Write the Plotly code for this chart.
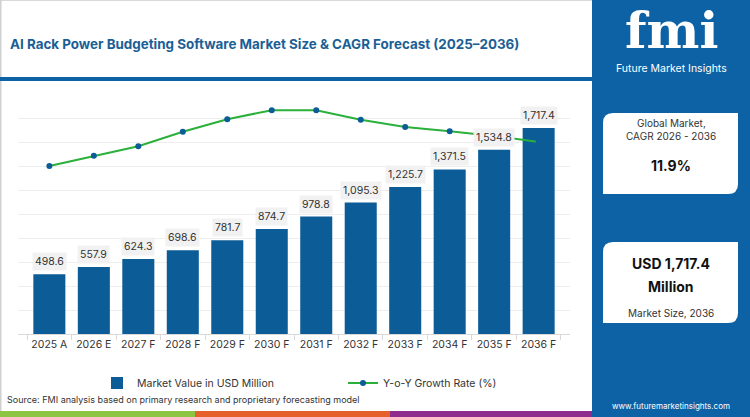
import plotly.graph_objects as go

# data
years = ["2025 A", "2026 E", "2027 F", "2028 F", "2029 F", "2030 F",
         "2031 F", "2032 F", "2033 F", "2034 F", "2035 F", "2036 F"]
market_value = [498.6, 557.9, 624.3, 698.6, 781.7, 874.7,
                978.8, 1095.3, 1225.7, 1371.5, 1534.8, 1717.4]
yoy_growth = [8.80, 8.97, 9.13, 9.37, 9.58, 9.73,
              9.73, 9.57, 9.45, 9.38, 9.30, 9.20]
value_labels = ["498.6", "557.9", "624.3", "698.6", "781.7", "874.7",
                "978.8", "1,095.3", "1,225.7", "1,371.5", "1,534.8", "1,717.4"]

W, H = 750, 417
L, R, T, B = 18, 570, 94, 334   # plot area in pixels
BLUE = "#0b5c97"
PANEL = "#0d62a6"
FONT = "Inter"


def px(x):
    return (x - L) / (R - L)


def py(y):
    return (B - y) / (B - T)


fig = go.Figure()

fig.add_trace(go.Bar(
    x=years, y=market_value,
    name="Market Value in USD Million",
    marker=dict(color=BLUE, line=dict(width=0)),
    legend="legend",
))

fig.add_trace(go.Scatter(
    x=years, y=yoy_growth,
    name="Y-o-Y Growth Rate (%)",
    mode="lines+markers",
    line=dict(color="#2bb03c", width=2),
    marker=dict(color=BLUE, size=6),
    yaxis="y2",
    legend="legend2",
))

annotations = []
# value labels above bars (annotations so they sit over the line)
for yr, v, lab in zip(years, market_value, value_labels):
    annotations.append(dict(
        x=yr, y=v, xref="x", yref="y", text=lab, showarrow=False,
        yanchor="bottom", yshift=3, bgcolor="#f1f1f1", borderpad=2,
        font=dict(family=FONT, size=10.5, color="#333333"),
    ))

# title
annotations.append(dict(
    x=px(8), y=py(44), xref="paper", yref="paper", xanchor="left", yanchor="middle",
    text="<b>AI Rack Power Budgeting Software Market Size & CAGR Forecast (2025–2036)</b>",
    showarrow=False, font=dict(family=FONT, size=13.4, color="#1b5f96"),
))
# source
annotations.append(dict(
    x=px(5), y=py(399), xref="paper", yref="paper", xanchor="left", yanchor="middle",
    text="Source: FMI analysis based on primary research and proprietary forecasting model",
    showarrow=False, font=dict(family=FONT, size=9, color="#333333"),
))

# right panel texts
annotations += [
    dict(x=px(671), y=py(30), text="<b>fmi</b>",
         font=dict(family="DejaVu Serif", size=50, color="white")),
    dict(x=px(671), y=py(69), text="Future Market Insights",
         font=dict(family=FONT, size=10.5, color="white")),
    dict(x=px(671), y=py(123), text="Global Market,",
         font=dict(family=FONT, size=10, color="#333333")),
    dict(x=px(671), y=py(136), text="CAGR 2026 - 2036",
         font=dict(family=FONT, size=10, color="#333333")),
    dict(x=px(671), y=py(165), text="<b>11.9%</b>",
         font=dict(family=FONT, size=14, color="#111111")),
    dict(x=px(671), y=py(263), text="<b>USD 1,717.4</b>",
         font=dict(family=FONT, size=14, color="#111111")),
    dict(x=px(671), y=py(286), text="<b>Million</b>",
         font=dict(family=FONT, size=14, color="#111111")),
    dict(x=px(671), y=py(313), text="Market Size, 2036",
         font=dict(family=FONT, size=10, color="#333333")),
    dict(x=px(671), y=py(406), text="www.futuremarketinsights.com",
         font=dict(family=FONT, size=8, color="white")),
]
for a in annotations[-9:]:
    a.update(xref="paper", yref="paper", showarrow=False,
             xanchor="center", yanchor="middle")


def rect(x0, y0, x1, y1, color, layer="below"):
    return dict(type="rect", xref="paper", yref="paper",
                x0=px(x0), x1=px(x1), y0=py(y1), y1=py(y0),
                fillcolor=color, line=dict(width=0), layer=layer)


def card(x0, y0, x1, y1, r=10):
    # rounded top-left and bottom-right corners
    pts = (f"M {px(x0)},{py(y0 + r)} "
           f"Q {px(x0)},{py(y0)} {px(x0 + r)},{py(y0)} "
           f"L {px(x1)},{py(y0)} "
           f"L {px(x1)},{py(y1 - r)} "
           f"Q {px(x1)},{py(y1)} {px(x1 - r)},{py(y1)} "
           f"L {px(x0)},{py(y1)} Z")
    return dict(type="path", xref="paper", yref="paper", path=pts,
                fillcolor="white", line=dict(width=0), layer="above")


shapes = [
    rect(0, 0, W, 1, "#d9d9d9"),
    rect(0, 0, 1.5, H, "#d0d0d0"),
    rect(0, 77, 592, 81, PANEL, "above"),
    rect(592, 0, W, H, PANEL, "above"),
    card(603, 113, 738, 194),
    card(603, 242, 738, 323),
    rect(0, 411, 195, H, "#8cc541", "above"),
    rect(195, 411, 390, H, "#e5602b", "above"),
    rect(390, 411, 592, H, "#8e2b8c", "above"),
]

legend_font = dict(family=FONT, size=10.5, color="#333333")

fig.update_layout(
    width=W, height=H,
    margin=dict(l=L, r=W - R, t=T, b=H - B, autoexpand=False),
    paper_bgcolor="white", plot_bgcolor="white",
    bargap=0.28,
    showlegend=True,
    legend=dict(orientation="h", x=px(97), y=py(383), xanchor="left", yanchor="middle",
                font=legend_font, itemwidth=30),
    legend2=dict(orientation="h", x=px(343), y=py(383), xanchor="left", yanchor="middle",
                 font=legend_font, itemwidth=30),
    xaxis=dict(
        showgrid=False, showline=True, linecolor="#d9d9d9", linewidth=1,
        ticks="outside", tickson="boundaries", ticklen=5, tickcolor="#d9d9d9",
        tickangle=0, automargin=False,
        tickfont=dict(family=FONT, size=10.5, color="#333333"),
    ),
    yaxis=dict(range=[0, 2000], dtick=200, showgrid=True, gridcolor="#eeeeee",
               showticklabels=False, zeroline=False, showline=False, automargin=False),
    yaxis2=dict(range=[6, 10], overlaying="y", side="right", visible=False,
                showgrid=False),
    shapes=shapes,
    annotations=annotations,
)

fig.write_html("out.html", config={"displayModeBar": False},
               post_script="document.body.style.margin='0';")
